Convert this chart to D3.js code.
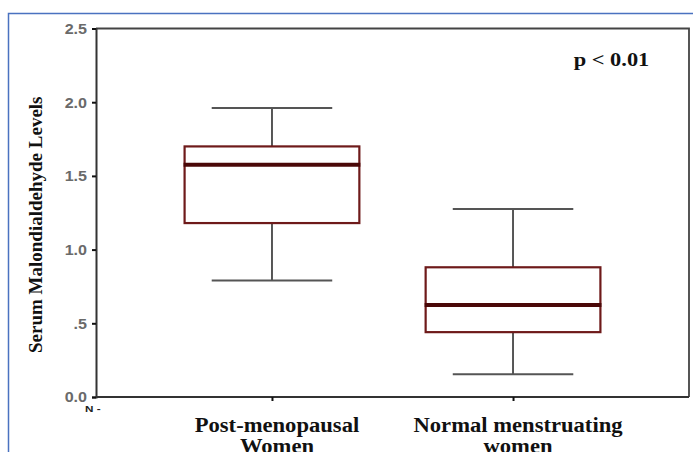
<!DOCTYPE html>
<html><head><meta charset="utf-8">
<script src="https://cdn.jsdelivr.net/npm/d3@7"></script>
<style>html,body{margin:0;padding:0;background:#fff;overflow:hidden}</style>
</head><body>
<svg id="chart" width="693" height="452"></svg>
<script>
const categories = [["Post-menopausal","Women"],["Normal menstruating","women"]];
const whiskerLow = [0.79, 0.155];
const q1 = [1.18, 0.44];
const medians = [1.575, 0.625];
const q3 = [1.70, 0.88];
const whiskerHigh = [1.96, 1.275];
const yTicks = [0, 0.5, 1.0, 1.5, 2.0, 2.5];
const yTickLabels = ["0.0", ".5", "1.0", "1.5", "2.0", "2.5"];
const yTitle = "Serum Malondialdehyde Levels";
const pText = "p < 0.01";

const svg = d3.select("#chart");
const L = 96, R = 689, T = 28.5, B = 397;

function stretch(sel, f){
  sel.each(function(){
    const w = this.getComputedTextLength();
    d3.select(this).attr("textLength", w*f).attr("lengthAdjust","spacingAndGlyphs");
  });
}

// outer blue frame
svg.append("path").attr("d", `M8.5,460 V13.5 H700`).attr("fill","none")
  .attr("stroke","#4a72c0").attr("stroke-width",1.5);

const y = d3.scaleLinear().domain([0,2.5]).range([B,T]);
const x = d3.scalePoint().domain(d3.range(categories.length)).range([L,R]).padding(0.73);
const step = x.step();
const boxW = step*0.725, capW = step*0.5;

// frame (top, right)
svg.append("path").attr("d", `M${L},${T} H${R} V${B}`).attr("fill","none")
  .attr("stroke","#444").attr("stroke-width",1.8);

// y axis
const yAxis = d3.axisLeft(y).tickValues(yTicks).tickSize(4).tickPadding(5)
  .tickFormat((d,i)=>yTickLabels[i]);
const gy = svg.append("g").attr("transform",`translate(${L},0)`).call(yAxis);
gy.select(".domain").attr("stroke","#333").attr("stroke-width",2);
gy.selectAll(".tick line").attr("stroke","#111").attr("stroke-width",2);
gy.selectAll(".tick text").attr("fill","#6a6a6a").attr("font-family","Arial, Liberation Sans, sans-serif")
  .attr("font-size",14).attr("font-weight","bold").attr("dy","0.35em");
stretch(gy.selectAll(".tick text"), 1.15);

// x axis
const xAxis = d3.axisBottom(x).tickSize(4).tickFormat("");
const gx = svg.append("g").attr("transform",`translate(0,${B})`).call(xAxis);
gx.select(".domain").attr("stroke","#333").attr("stroke-width",2).attr("d",`M${L},0H${R}`);
gx.selectAll(".tick line").attr("stroke","#111").attr("stroke-width",2);

// category labels
categories.forEach((lines,i)=>{
  lines.forEach((ln,j)=>{
    const t = svg.append("text").attr("x", x(i)+5).attr("y", 432 + j*21)
      .attr("text-anchor","middle").attr("font-family","Liberation Serif, Times New Roman, serif")
      .attr("font-weight","bold").attr("font-size",20).attr("fill","#111").text(ln);
    stretch(t, 1.13);
  });
});

// boxes
categories.forEach((c,i)=>{
  const cx = x(i);
  const g = svg.append("g");
  g.append("line").attr("x1",cx).attr("x2",cx).attr("y1",y(whiskerHigh[i])).attr("y2",y(q3[i]))
    .attr("stroke","#555").attr("stroke-width",2);
  g.append("line").attr("x1",cx).attr("x2",cx).attr("y1",y(q1[i])).attr("y2",y(whiskerLow[i]))
    .attr("stroke","#555").attr("stroke-width",2);
  [whiskerHigh[i], whiskerLow[i]].forEach(v=>{
    g.append("line").attr("x1",cx-capW/2).attr("x2",cx+capW/2).attr("y1",y(v)).attr("y2",y(v))
      .attr("stroke","#555").attr("stroke-width",2);
  });
  g.append("rect").attr("x",cx-boxW/2).attr("width",boxW)
    .attr("y",y(q3[i])).attr("height",y(q1[i])-y(q3[i]))
    .attr("fill","#fff").attr("stroke","#6e1a1a").attr("stroke-width",2.2);
  g.append("line").attr("x1",cx-boxW/2-1).attr("x2",cx+boxW/2+1)
    .attr("y1",y(medians[i])).attr("y2",y(medians[i]))
    .attr("stroke","#4a0808").attr("stroke-width",4);
});

// y title
svg.append("text").attr("transform",`translate(42,${(B+T)/2+12}) rotate(-90)`)
  .attr("text-anchor","middle").attr("font-family","Liberation Serif, Times New Roman, serif")
  .attr("font-weight","bold").attr("font-size",19).attr("fill","#111").text(yTitle);

// p value
const pt = svg.append("text").attr("x",611.5).attr("y",66).attr("text-anchor","middle")
  .attr("font-family","Liberation Serif, Times New Roman, serif")
  .attr("font-weight","bold").attr("font-size",19).attr("fill","#111").text(pText);
stretch(pt, 1.18);

// N row label
const nt = svg.append("text").attr("x",85).attr("y",412).attr("font-family","Arial, Liberation Sans, sans-serif")
  .attr("font-weight","bold").attr("font-size",9).attr("fill","#222").text("N -");
stretch(nt, 1.3);
</script>
</body></html>
